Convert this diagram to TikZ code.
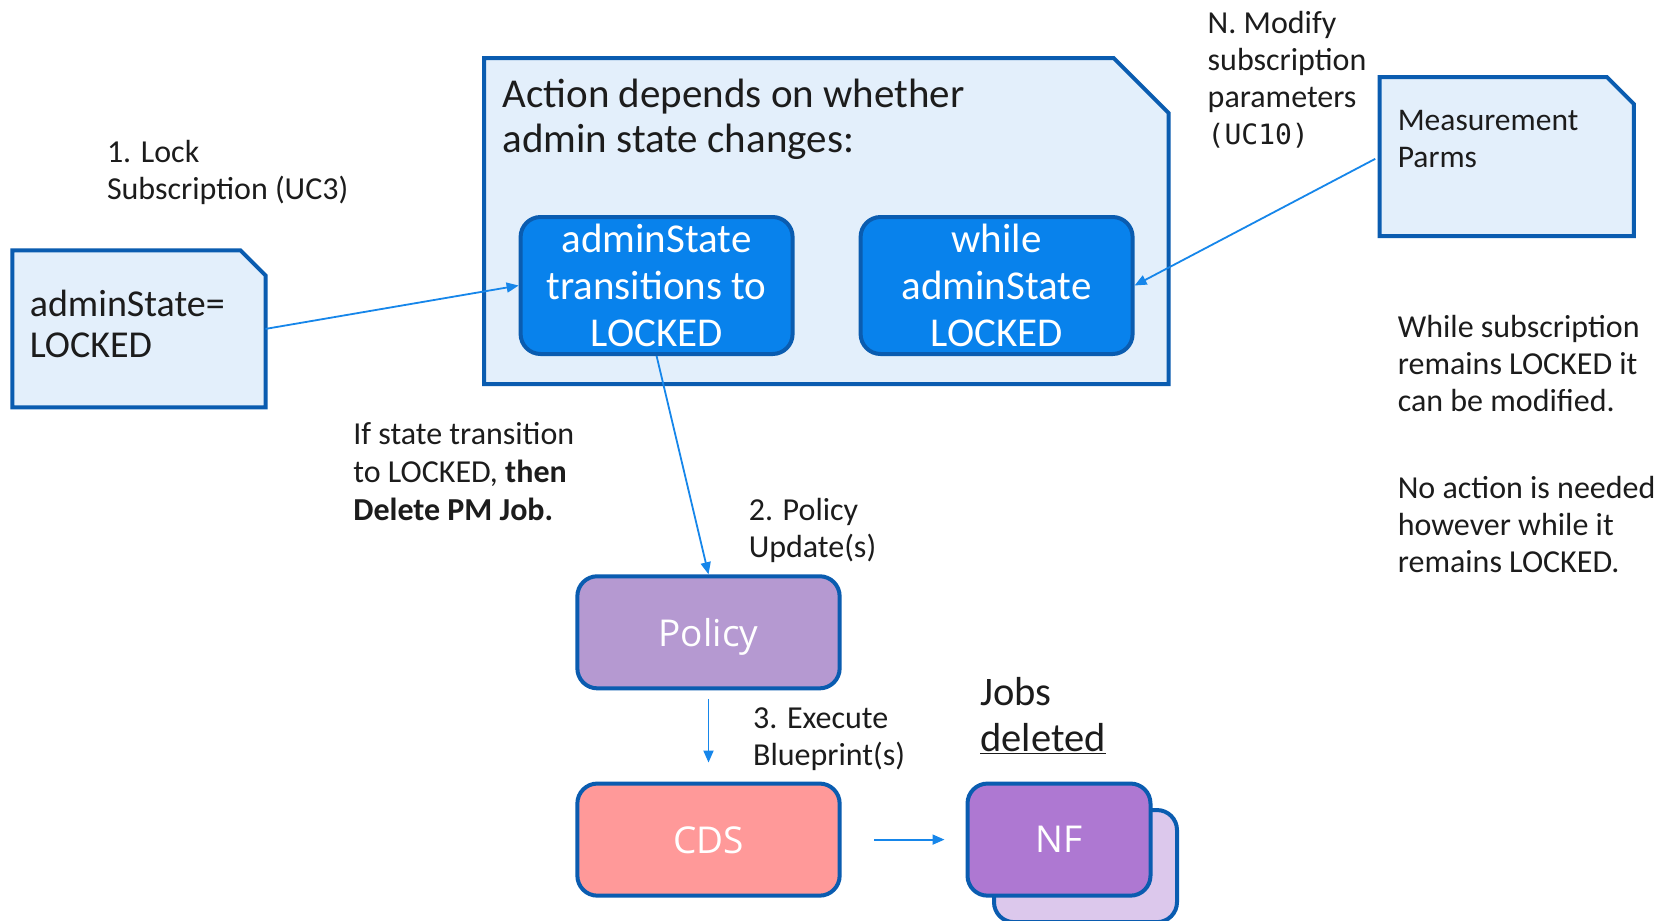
\documentclass[tikz,border=0pt]{standalone}
\usepackage{fontspec}
\setmainfont{Carlito}
\newfontfamily\boxfont{Open Sans}
\newfontfamily\codefont{DejaVu Sans Mono}
\usetikzlibrary{arrows.meta}
\definecolor{bordercol}{RGB}{10,92,176}
\definecolor{lightfill}{RGB}{227,239,251}
\definecolor{innerfill}{RGB}{8,130,236}
\definecolor{arrowcol}{RGB}{22,134,234}
\definecolor{policyfill}{RGB}{181,153,209}
\definecolor{cdsfill}{RGB}{255,153,153}
\definecolor{nffill}{RGB}{174,120,210}
\definecolor{nfshadow}{RGB}{220,200,236}
\definecolor{txtcol}{RGB}{28,28,28}
\tikzset{
  holder/.style={rectangle, inner sep=0pt, draw=none},
  notefill/.style={draw=bordercol, line width=4pt, fill=lightfill, line join=miter},
  bodytext/.style={anchor=north west, inner sep=0pt, align=left, text=txtcol, font=\fontsize{32}{37}\selectfont},
  bluebox/.style={rectangle, rounded corners=20pt, draw=bordercol, line width=4pt, fill=innerfill, text=white, align=center, inner sep=0pt, minimum width=272pt, minimum height=137pt, font=\fontsize{41}{46.6}\selectfont},
  compbox/.style={rectangle, rounded corners=20pt, draw=bordercol, line width=4pt, text=white, inner sep=0pt, text depth=0pt, font=\boxfont\fontsize{37}{44}\selectfont},
  flow/.style={draw=arrowcol, line width=1.8pt, -{Triangle[length=12pt,width=10pt]}}
}
\begin{document}
\begin{tikzpicture}[x=1pt,y=-1pt]
\useasboundingbox[fill=white] (0,0) rectangle (1658,921);

% adminState note
\node[holder, minimum width=252.7pt, minimum height=156.5pt] (st) at (139,328.9) {};
\draw[notefill] (st.south west) -- (st.north west) -- ([xshift=-25pt]st.north east) -- ([yshift=-25pt]st.north east) -- (st.south east) -- cycle;
\node[bodytext, font=\fontsize{38}{41}\selectfont] (sttext) at (29.6,287.3) {\strut adminState=\\LOCKED};

% lock label
\node[bodytext] (lock) at (106.8,135.9) {\strut 1. Lock\\Subscription (UC3)};

% big container
\node[holder, minimum width=684.1pt, minimum height=325.6pt] (big) at (826.35,221) {};
\draw[notefill] (big.south west) -- (big.north west) -- ([xshift=-55pt]big.north east) -- ([yshift=-55pt]big.north east) -- (big.south east) -- cycle;
\node[bodytext, font=\fontsize{41}{44.4}\selectfont] (title) at (502.3,76.5) {\strut Action depends on whether\\admin state changes:};

\node[bluebox] (inL) at (656.6,285.5) {adminState\\transitions to\\LOCKED};
\node[bluebox] (inR) at (996.6,285.5) {while\\adminState\\LOCKED};

% measurement parms note
\node[holder, minimum width=253.8pt, minimum height=158.6pt] (mp) at (1506.8,156.5) {};
\draw[notefill] (mp.south west) -- (mp.north west) -- ([xshift=-27pt]mp.north east) -- ([yshift=-27pt]mp.north east) -- (mp.south east) -- cycle;
\node[bodytext, font=\fontsize{31.5}{37}\selectfont] (mptext) at (1397.6,104) {\strut Measurement\\Parms};

\node[bodytext] (modify) at (1207.5,6.9) {\strut N. Modify\\subscription\\parameters\\{\codefont\fontsize{28}{37}\selectfont (UC10)}};

\node[bodytext] (while) at (1397.6,311.4) {\strut While subscription\\remains LOCKED it\\can be modified.};
\node[bodytext] (noact) at (1397.6,472.2) {\strut No action is needed\\however while it\\remains LOCKED.};

\node[bodytext, font=\fontsize{32}{38}\selectfont] (ifstate) at (353.2,417.5) {\strut If state transition\\to LOCKED, \textbf{then}\\\textbf{Delete PM Job.}};
\node[bodytext] (polupd) at (748.6,494.4) {\strut 2. Policy\\Update(s)};
\node[bodytext] (exec) at (752.9,702.7) {\strut 3. Execute\\Blueprint(s)};
\node[bodytext, font=\fontsize{40.5}{46.5}\selectfont] (jobs) at (980.2,672.3) {\strut Jobs\\\underline{deleted}};

% components
\node[compbox, fill=policyfill, minimum width=262.3pt, minimum height=112.1pt] (pol) at (708.5,632.3) {Policy};
\node[compbox, fill=cdsfill, minimum width=262.3pt, minimum height=112.1pt] (cds) at (708.5,839.6) {CDS};
\node[compbox, fill=nfshadow, minimum width=183pt, minimum height=112.1pt] (nfb) at (1085.5,866.1) {};
\node[compbox, fill=nffill, minimum width=183pt, minimum height=112.1pt] (nf) at (1059,839.6) {NF};

% connectors
\draw[flow] (st.east) -- (inL.west);
\draw[flow, shorten <=5pt] (mp.west) -- (inR.east);
\draw[flow] (inL.south) -- (pol.north);
\draw[flow, shorten <=8.4pt, shorten >=19pt] (pol.south) -- (cds.north);
\draw[flow, shorten <=32.8pt, shorten >=21pt] (cds.east) -- (nf.west);
\end{tikzpicture}
\end{document}
